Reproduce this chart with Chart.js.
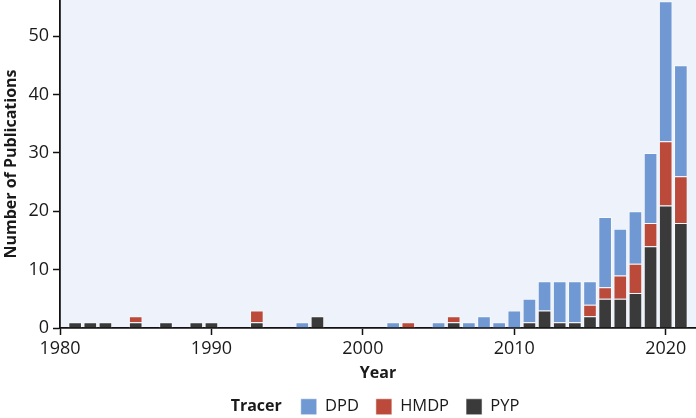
<!DOCTYPE html>
<html>
<head>
<meta charset="utf-8">
<script src="https://cdn.jsdelivr.net/npm/chart.js@4/dist/chart.umd.min.js"></script>
<style>
  html, body { margin: 0; padding: 0; background: #ffffff; }
  #wrap { width: 696px; height: 418px; }
</style>
</head>
<body>
<div id="wrap"><canvas id="c" width="696" height="418"></canvas></div>
<script>
// ---- data ----
const years = [1981,1982,1983,1985,1987,1989,1990,1993,1996,1997,2002,2003,2005,2006,2007,2008,2009,2010,2011,2012,2013,2014,2015,2016,2017,2018,2019,2020,2021];
const pyp   = [1,1,1,1,1,1,1,1,0,2,0,0,0,1,0,0,0,0,1,3,1,1,2,5,5,6,14,21,18];
const hmdp  = [0,0,0,1,0,0,0,2,0,0,0,1,0,1,0,0,0,0,0,0,0,0,2,2,4,5,4,11,8];
const dpd   = [0,0,0,0,0,0,0,0,1,0,1,0,1,0,1,2,1,3,4,5,7,7,4,12,8,9,12,24,19];
const seriesNames = ['PYP', 'HMDP', 'DPD'];
const xRange = [1980, 2022];
const yRange = [0, 56.2];
const tickStep = 10;
const xTitle = 'Year';
const yTitle = 'Number of Publications';
const legendTitle = 'Tracer';

const colors = { PYP: '#3a3a3a', HMDP: '#bb4a3a', DPD: '#7098d3' };
const FONT = "'Open Sans', 'Noto Sans', sans-serif";
const INK = '#1a1a1a';

function toPoints(vals) { return years.map((yr, i) => ({ x: yr, y: vals[i] })); }
const valuesByName = { PYP: pyp, HMDP: hmdp, DPD: dpd };

const datasets = seriesNames.map(name => ({
  label: name,
  data: toPoints(valuesByName[name]),
  backgroundColor: colors[name],
  borderColor: 'rgba(255,255,255,0.55)',
  borderWidth: 1,
  barPercentage: 0.9,
  categoryPercentage: 1.0
}));

const bgPlugin = {
  id: 'plotBg',
  beforeDraw(chart) {
    const a = chart.chartArea, ctx = chart.ctx;
    ctx.save();
    ctx.fillStyle = '#eef2fa';
    ctx.fillRect(a.left, a.top, a.right - a.left, a.bottom - a.top);
    ctx.restore();
  }
};

const legendTitlePlugin = {
  id: 'legendTitleInline',
  afterLayout(chart) {
    const lg = chart.legend;
    if (!lg || !lg.lineWidths) return;
    const pad = lg.options.labels.padding;
    const ctx = chart.ctx;
    ctx.save();
    ctx.font = "bold 16px " + FONT;
    const tw = ctx.measureText(legendTitle).width;
    ctx.restore();
    const gap = 19;
    const lineW = lg.lineWidths[0];
    const W = lineW - pad;
    const cx = (chart.chartArea.left + chart.chartArea.right) / 2 - 3;
    const desiredStart = cx - (tw + gap + W) / 2 + tw + gap;
    const currentStart = (lg.left + pad + lg.right - lineW) / 2;
    const dx = desiredStart - currentStart;
    lg.left += dx; lg.right += dx;
  },
  afterDraw(chart) {
    const lg = chart.legend;
    if (!lg || !lg.legendHitBoxes || !lg.legendHitBoxes.length) return;
    const hb = lg.legendHitBoxes[0];
    const ctx = chart.ctx;
    ctx.save();
    ctx.font = "bold 16px " + FONT;
    ctx.fillStyle = INK;
    ctx.textAlign = 'right';
    ctx.textBaseline = 'middle';
    ctx.fillText(legendTitle, hb.left - 19, hb.top + hb.height / 2);
    ctx.restore();
  }
};

new Chart(document.getElementById('c'), {
  type: 'bar',
  data: { datasets },
  plugins: [bgPlugin, legendTitlePlugin],
  options: {
    responsive: false,
    animation: false,
    devicePixelRatio: 1,
    layout: { padding: { left: 0, right: 0, top: 0, bottom: -7 } },
    plugins: {
      tooltip: { enabled: false },
      legend: {
        position: 'bottom',
        reverse: true,
        labels: {
          font: { family: FONT, size: 16.5 },
          color: INK,
          boxWidth: 16,
          boxHeight: 16,
          padding: 17
        }
      }
    },
    scales: {
      x: {
        type: 'linear',
        stacked: true,
        offset: false,
        min: xRange[0],
        max: xRange[1],
        ticks: {
          stepSize: tickStep,
          includeBounds: false,
          autoSkip: false,
          maxRotation: 0,
          padding: 3,
          color: INK,
          font: { family: FONT, size: 18 },
          callback: v => String(v)
        },
        grid: { display: true, drawOnChartArea: false, drawTicks: true, tickLength: 7, tickWidth: 1.5, tickColor: '#111', offset: false },
        border: { display: true, color: '#111', width: 1.8 },
        title: { display: true, text: xTitle, color: INK, font: { family: FONT, size: 16, weight: 'bold' }, padding: { top: 0, bottom: -2 } },
        afterFit(s) { s.height = 53.5; s.paddingLeft = 0; s.paddingRight = 0; }
      },
      y: {
        stacked: true,
        min: yRange[0],
        max: yRange[1],
        ticks: {
          stepSize: tickStep,
          includeBounds: false,
          padding: 4,
          color: INK,
          font: { family: FONT, size: 18 }
        },
        grid: { display: true, drawOnChartArea: false, drawTicks: true, tickLength: 7, tickWidth: 1.5, tickColor: '#111' },
        border: { display: true, color: '#111', width: 1.8 },
        title: { display: true, text: yTitle, color: INK, font: { family: FONT, size: 16, weight: 'bold' }, padding: { top: 2, bottom: 0 } },
        afterFit(s) { s.width = 60; s.paddingTop = 0; s.paddingBottom = 0; }
      }
    }
  }
});
</script>
</body>
</html>
